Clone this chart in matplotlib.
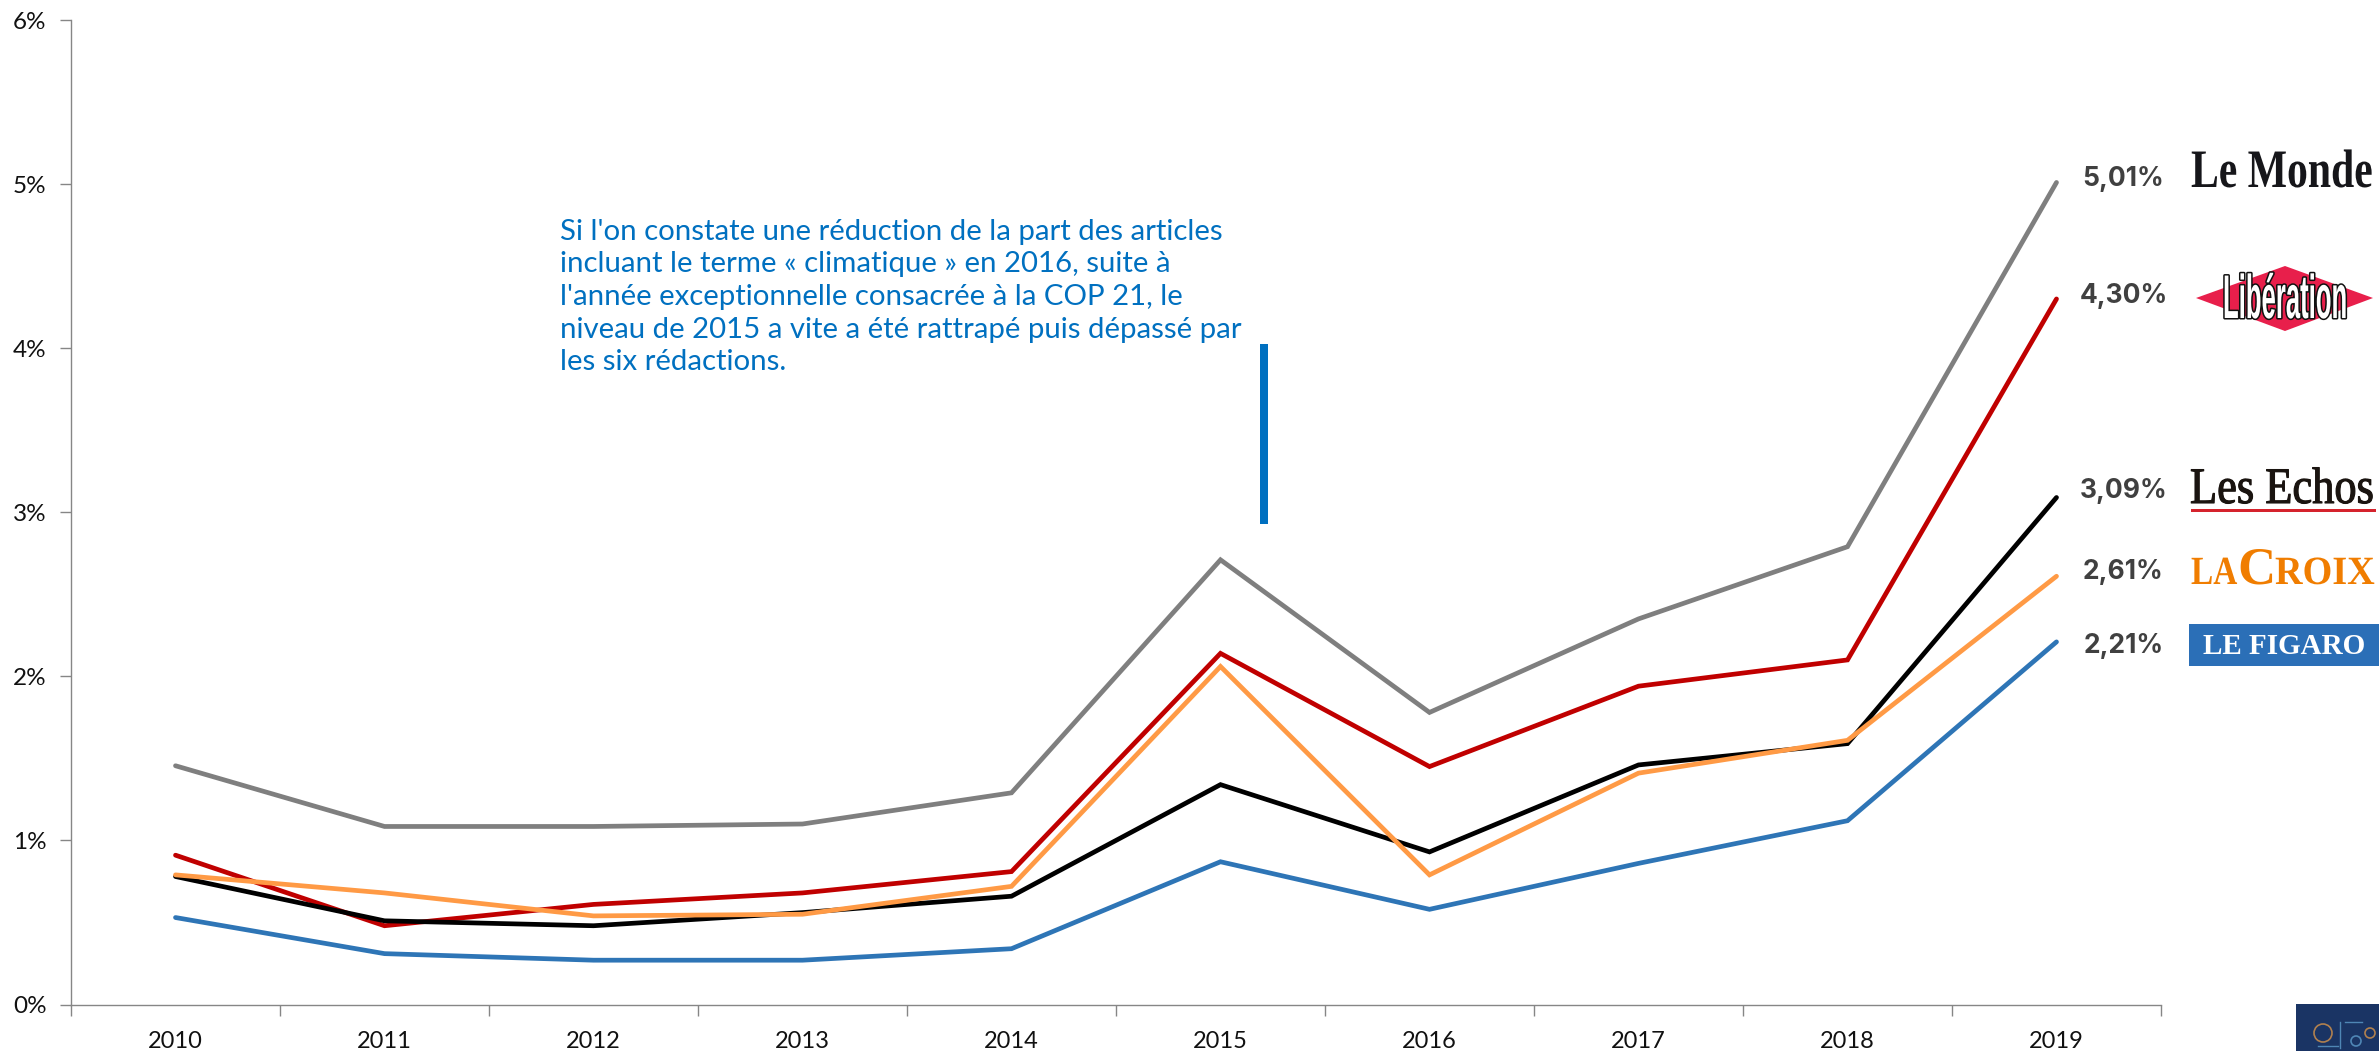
import matplotlib
matplotlib.use("Agg")
import matplotlib.pyplot as plt
import matplotlib.patheffects as pe
from matplotlib.patches import Polygon, Rectangle, Circle
from matplotlib.transforms import Affine2D

W, H = 2379, 1051

years = [2010, 2011, 2012, 2013, 2014, 2015, 2016, 2017, 2018, 2019]
monde = [1.455, 1.085, 1.085, 1.10, 1.29, 2.71, 1.78, 2.35, 2.79, 5.01]
liberation = [0.91, 0.48, 0.61, 0.68, 0.81, 2.14, 1.45, 1.94, 2.10, 4.30]
echos = [0.78, 0.51, 0.48, 0.56, 0.66, 1.34, 0.93, 1.46, 1.59, 3.09]
croix = [0.79, 0.68, 0.54, 0.55, 0.72, 2.06, 0.79, 1.41, 1.61, 2.61]
figaro = [0.53, 0.31, 0.27, 0.27, 0.34, 0.87, 0.58, 0.86, 1.12, 2.21]

end_labels = ["5,01%", "4,30%", "3,09%", "2,61%", "2,21%"]
note = ("Si l'on constate une réduction de la part des articles\n"
        "incluant le terme « climatique » en 2016, suite à\n"
        "l'année exceptionnelle consacrée à la COP 21, le\n"
        "niveau de 2015 a vite a été rattrapé puis dépassé par\n"
        "les six rédactions.")

# order = drawing order, last one on top
series = [
    (monde, "#7F7F7F", 0, 3),
    (liberation, "#C00000", 1, 3),
    (figaro, "#2E75B6", 4, -4),
    (echos, "#000000", 2, 6),
    (croix, "#FF9A45", 3, 4),
]


# logos are plain text, this makes the letters taller from the baseline
class Tall(pe.AbstractPathEffect):
    def __init__(self, sy=1.0, stroke=None, width=0):
        super().__init__()
        self.sy = sy
        self.stroke = stroke
        self.width = width

    def draw_path(self, renderer, gc, tpath, affine, rgbFace=None):
        t = Affine2D().scale(1, self.sy) + affine
        if self.stroke:
            gc0 = renderer.new_gc()
            gc0.copy_properties(gc)
            gc0.set_foreground(self.stroke)
            gc0.set_linewidth(self.width)
            renderer.draw_path(gc0, tpath, t, rgbFace)
            gc0.restore()
        renderer.draw_path(gc, tpath, t, rgbFace)


fig = plt.figure(figsize=(W / 100, H / 100), dpi=100)
ax = fig.add_axes([71 / W, 1 - 1004.5 / H, 2090 / W, 984.5 / H])

for vals, col, i, dy in series:
    ax.plot(years, vals, color=col, lw=3.4, solid_capstyle="round", solid_joinstyle="miter")
    ax.annotate(end_labels[i], (years[-1], vals[-1]), xytext=(67 * 0.72, dy * 0.72),
                textcoords="offset points", ha="center", va="center", fontsize=19,
                fontweight="bold", color="#404040", family="Inter")

ax.set_xlim(2009.5, 2019.5)
ax.set_ylim(0, 6)
ax.set_yticks(range(7))
ax.set_yticklabels([str(v) + "%" for v in range(7)], family="Lato", fontsize=17.5, color="#111111")
ax.set_xticks([y - 0.5 for y in years] + [2019.5])
ax.set_xticklabels([])
ax.set_xticks(years, minor=True)
ax.set_xticklabels(years, minor=True, family="Lato", fontsize=17, color="#111111")
ax.tick_params(axis="x", which="major", length=8, color="#868686", width=1)
ax.tick_params(axis="x", which="minor", length=0, pad=19)
ax.tick_params(axis="y", length=8, color="#868686", width=1, pad=9.5)
for s in ["top", "right"]:
    ax.spines[s].set_visible(False)
for s in ["left", "bottom"]:
    ax.spines[s].set_color("#868686")
    ax.spines[s].set_linewidth(1)

# overlay in pixels for the note and the logos
ov = fig.add_axes([0, 0, 1, 1])
ov.set_xlim(0, W)
ov.set_ylim(H, 0)
ov.axis("off")
ov.patch.set_alpha(0)

ov.text(560, 297, note, ha="left", va="center", fontsize=21.2, color="#0070C0", family="Lato",
        linespacing=1.31)
ov.add_patch(Rectangle((1260, 344), 8, 180, color="#0070C0", lw=0))

# Le Monde
ov.text(2191, 187, "Le Monde", ha="left", va="baseline", fontsize=30, fontweight="bold",
        family="Liberation Serif", color="#16161a", path_effects=[Tall(1.3)])

# Liberation
ov.add_patch(Polygon([(2196, 298), (2285, 266), (2373, 298), (2285, 331)], color="#E81F4B", lw=0))
ov.text(2223, 318, "Libération", ha="left", va="baseline", fontsize=18.5, fontweight="bold",
        family="Liberation Sans", color="white", path_effects=[Tall(2.4, "#111111", 2.2)])

# Les Echos
ov.text(2190, 503, "Les Echos", ha="left", va="baseline", fontsize=32,
        family="Liberation Serif", color="#1a1410", path_effects=[Tall(1.15, "#1a1410", 0.8)])
ov.add_patch(Rectangle((2191, 509), 185, 3, color="#D5232D", lw=0))

# La Croix
ov.text(2191, 584, "LA", ha="left", va="baseline", fontsize=24, fontweight="bold",
        family="Liberation Serif", color="#F07D00", path_effects=[Tall(1.2)])
ov.text(2237, 584, "C", ha="left", va="baseline", fontsize=38, fontweight="bold",
        family="Liberation Serif", color="#F07D00")
ov.text(2275, 584, "ROIX", ha="left", va="baseline", fontsize=27.5, fontweight="bold",
        family="Liberation Serif", color="#F07D00", path_effects=[Tall(1.05)])

# Le Figaro
ov.add_patch(Rectangle((2189, 624), 190, 42, color="#2B6FB7", lw=0))
ov.text(2284, 647, "LE FIGARO", ha="center", va="center", fontsize=21, fontweight="bold",
        family="Liberation Serif", color="white")

# bottom corner thumbnail
ov.add_patch(Rectangle((2296, 1004), 83, 47, color="#1A3464", lw=0))
ov.add_patch(Circle((2323, 1033), 9, fill=False, ec="#B0804F", lw=1.2))
ov.add_patch(Circle((2356, 1041), 5, fill=False, ec="#4F86B5", lw=1.2))
ov.plot([2340, 2340], [1022, 1048], color="#4F86B5", lw=1)
ov.plot([2345, 2362], [1022, 1022], color="#4F86B5", lw=1)
ov.plot([2318, 2338], [1046, 1046], color="#4F86B5", lw=1)
ov.add_patch(Circle((2370, 1033), 5, fill=False, ec="#B0804F", lw=1.2))

fig.savefig("out.png", dpi=100)
